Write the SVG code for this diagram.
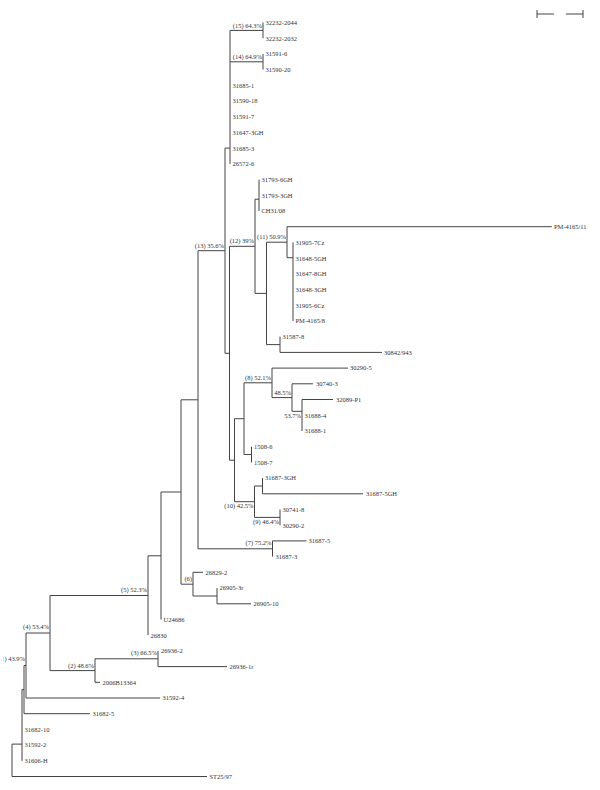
<svg xmlns="http://www.w3.org/2000/svg" width="600" height="790" viewBox="0 0 600 790">
<style>
.br{stroke:#444;stroke-width:1;fill:none}
text{font-family:"Liberation Serif","Times New Roman",serif;font-size:6.5px;fill:#333}
.sp{text-anchor:end}
</style>
<defs>
<clipPath id="edgeclip"><rect x="3.6" y="650" width="30" height="20"/></clipPath>
</defs>
<rect width="600" height="790" fill="#fff"/>
<g id="connectors" class="br">
<path d="M263 22.5V38.2M263 53.9V69.6M230 30.4V163.9M225 148.1V353.3M259 179.6V211M255 199.2V293.4M266.5 242.2V344.6M287 226.7V257.7M293 242.4V321M280 336.7V352.4M229.5 246.3V460.2M234.5 418.7V501.7M244 382.8V454.5M272 368.1V397.6M292 383.8V411.3M302 399.5V431M251.5 446.7V462.4M254.5 486V517.4M262.5 478.1V493.8M280 509.5V525.2M198 250.7V548.8M272.5 540.9V556.6M181 399.8V584.2M193 572.3V596M217 588.1V603.8M161 492V619.5M148 555.8V635.2M50 595.5V670.6M95 658.8V682.3M158 650.9V666.6M26 633V698M24 665.5V713.7M22 689.6V760.8M12 744.1V776.5"/>
<path d="M230 30.4H263M230 61.8H263M225 148.1H230M225 353.3H229.5M198 250.7H225M255 199.2H259M229.5 246.3H255M255 293.4H266.5M266.5 242.2H287M266.5 344.6H280M287 226.7H551.7M287 257.7H293M280 352.4H382M229.5 460.2H234.5M234.5 418.7H244M234.5 501.7H254.5M244 382.8H272M244 454.5H251.5M272 368.1H348M272 397.6H292M292 383.8H313M292 411.3H302M302 399.5H333M254.5 486H262.5M262.5 493.8H363M254.5 517.4H280M198 548.8H272.5M272.5 540.9H306.5M181 399.8H198M181 584.2H193M193 572.3H203M193 596H217M217 603.8H251M161 492H181M148 555.8H161M50 595.5H148M50 670.6H95M95 658.8H158M95 682.3H100M158 666.6H227M26 633H50M26 698H160M24 665.5H26M24 713.7H90M22 689.6H24M12 744.1H22M12 776.5H207"/>
</g>
<g id="scale-bar" class="br">
<path d="M537 14H554M566 14H583M537 10V18M583 10V18"/>
</g>
<g id="node-15"><text class="sp" x="262" y="27.5">(15)  64.3%</text></g>
<g id="node-14"><text class="sp" x="262" y="58.8">(14)  64.9%</text></g>
<g id="node-13"><text class="sp" x="224" y="247.7">(13)  35.6%</text></g>
<g id="node-12"><text class="sp" x="254" y="243.3">(12)  39%</text></g>
<g id="node-11"><text class="sp" x="286" y="239.2">(11)  50.9%</text></g>
<g id="node-8"><text class="sp" x="271" y="379.8">(8)  52.1%</text></g>
<g id="node-p"><text class="sp" x="291" y="394.6">48.5%</text></g>
<g id="node-q"><text class="sp" x="301" y="417.5">53.7%</text></g>
<g id="node-10"><text class="sp" x="253.5" y="507.5">(10)  42.5%</text></g>
<g id="node-9"><text class="sp" x="279" y="523.5">(9)  46.4%</text></g>
<g id="node-7"><text class="sp" x="271.5" y="545">(7)  75.2%</text></g>
<g id="node-6"><text class="sp" x="192" y="580.5">(6)</text></g>
<g id="node-5"><text class="sp" x="147" y="591.5">(5)  52.3%</text></g>
<g id="node-4"><text class="sp" x="49" y="628.5">(4)  53.4%</text></g>
<g id="node-3"><text class="sp" x="157" y="654.5">(3)  66.5%</text></g>
<g id="node-2"><text class="sp" x="94" y="667.5">(2)  48.6%</text></g>
<g id="node-1" clip-path="url(#edgeclip)"><text class="sp" x="25" y="661">(1) 43.9%</text></g>
<g id="leaves">
<g id="leaf-32232-2044"><text x="265.5" y="24.8">32232-2044</text></g>
<g id="leaf-32232-2032"><text x="265.5" y="40.5">32232-2032</text></g>
<g id="leaf-31591-6"><text x="265.5" y="56.2">31591-6</text></g>
<g id="leaf-31590-20"><text x="265.5" y="71.9">31590-20</text></g>
<g id="leaf-31685-1"><text x="232.5" y="87.6">31685-1</text></g>
<g id="leaf-31590-18"><text x="232.5" y="103.4">31590-18</text></g>
<g id="leaf-31591-7"><text x="232.5" y="119.1">31591-7</text></g>
<g id="leaf-31647-3GH"><text x="232.5" y="134.8">31647-3GH</text></g>
<g id="leaf-31685-3"><text x="232.5" y="150.5">31685-3</text></g>
<g id="leaf-26572-6"><text x="232.5" y="166.2">26572-6</text></g>
<g id="leaf-31793-6GH"><text x="261.5" y="181.9">31793-6GH</text></g>
<g id="leaf-31793-3GH"><text x="261.5" y="197.6">31793-3GH</text></g>
<g id="leaf-CH31-08"><text x="261.5" y="213.3">CH31/08</text></g>
<g id="leaf-PM-4165-11"><text x="554" y="229">PM-4165/11</text></g>
<g id="leaf-31905-7Cz"><text x="295.5" y="244.7">31905-7Cz</text></g>
<g id="leaf-31648-5GH"><text x="295.5" y="260.5">31648-5GH</text></g>
<g id="leaf-31647-8GH"><text x="295.5" y="276.2">31647-8GH</text></g>
<g id="leaf-31648-3GH"><text x="295.5" y="291.9">31648-3GH</text></g>
<g id="leaf-31905-6Cz"><text x="295.5" y="307.6">31905-6Cz</text></g>
<g id="leaf-PM-4165-8"><text x="295.5" y="323.3">PM-4165/8</text></g>
<g id="leaf-31587-8"><text x="282.5" y="339">31587-8</text></g>
<g id="leaf-30842-943"><text x="384" y="354.7">30842/943</text></g>
<g id="leaf-30290-5"><text x="350" y="370.4">30290-5</text></g>
<g id="leaf-30740-3"><text x="316" y="386.1">30740-3</text></g>
<g id="leaf-32089-P1"><text x="336" y="401.8">32089-P1</text></g>
<g id="leaf-31688-4"><text x="304.5" y="417.6">31688-4</text></g>
<g id="leaf-31688-1"><text x="304.5" y="433.3">31688-1</text></g>
<g id="leaf-1508-6"><text x="254" y="449">1508-6</text></g>
<g id="leaf-1508-7"><text x="254" y="464.7">1508-7</text></g>
<g id="leaf-31687-3GH"><text x="265" y="480.4">31687-3GH</text></g>
<g id="leaf-31687-5GH"><text x="366" y="496.1">31687-5GH</text></g>
<g id="leaf-30741-8"><text x="282.5" y="511.8">30741-8</text></g>
<g id="leaf-30290-2"><text x="282.5" y="527.5">30290-2</text></g>
<g id="leaf-31687-5"><text x="308.5" y="543.2">31687-5</text></g>
<g id="leaf-31687-3"><text x="275.5" y="558.9">31687-3</text></g>
<g id="leaf-26829-2"><text x="205.5" y="574.6">26829-2</text></g>
<g id="leaf-26905-3r"><text x="219.5" y="590.4">26905-3r</text></g>
<g id="leaf-26905-10"><text x="253.5" y="606.1">26905-10</text></g>
<g id="leaf-U24686"><text x="163.5" y="621.8">U24686</text></g>
<g id="leaf-26830"><text x="150.5" y="637.5">26830</text></g>
<g id="leaf-26936-2"><text x="161" y="653.2">26936-2</text></g>
<g id="leaf-26936-1r"><text x="229.5" y="668.9">26936-1r</text></g>
<g id="leaf-2006B13364"><text x="102.5" y="684.6">2006B13364</text></g>
<g id="leaf-31592-4"><text x="162.5" y="700.3">31592-4</text></g>
<g id="leaf-31682-5"><text x="92.5" y="716">31682-5</text></g>
<g id="leaf-31682-10"><text x="24.5" y="731.7">31682-10</text></g>
<g id="leaf-31592-2"><text x="24.5" y="747.4">31592-2</text></g>
<g id="leaf-31606-H"><text x="24.5" y="763.1">31606-H</text></g>
<g id="leaf-ST25-97"><text x="209.5" y="778.8">ST25/97</text></g>
</g>
</svg>
